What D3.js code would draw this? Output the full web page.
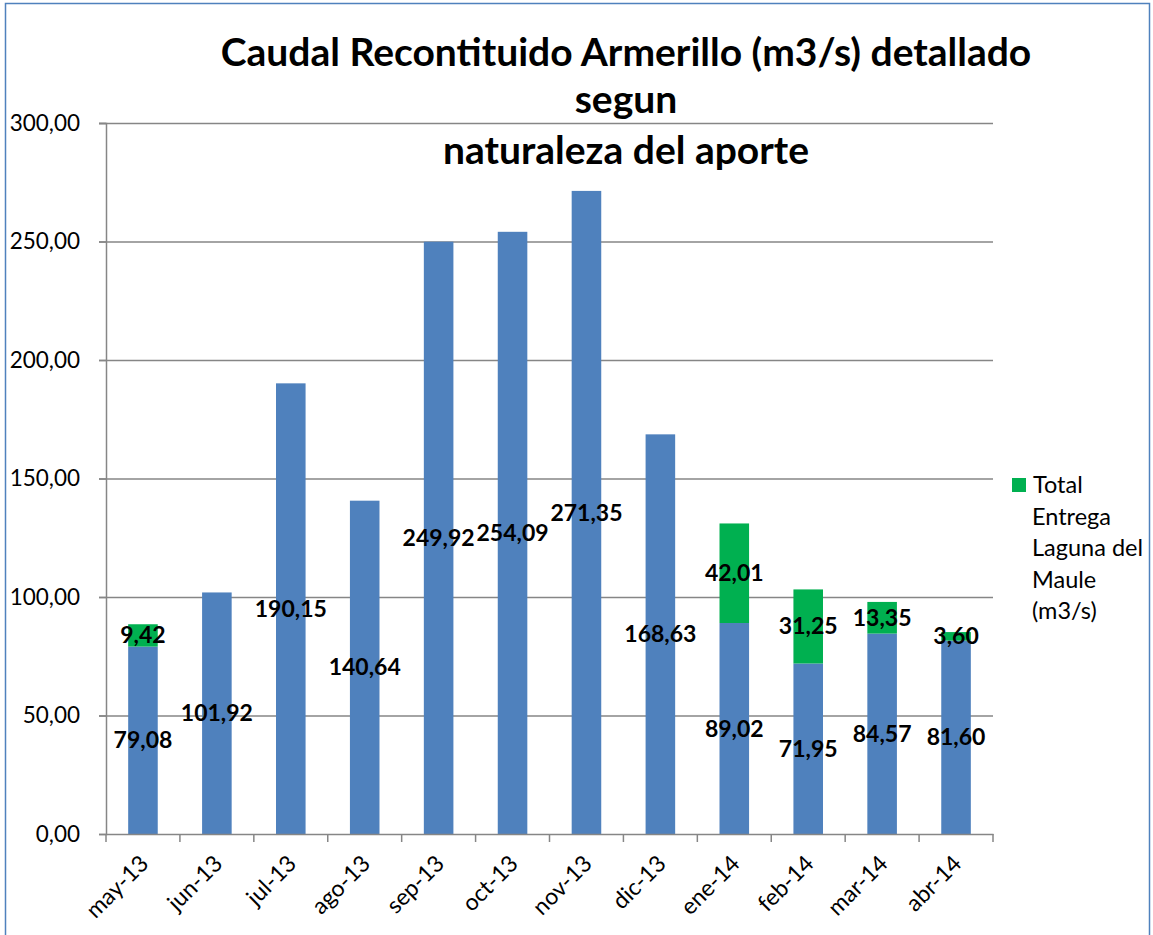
<!DOCTYPE html>
<html><head><meta charset="utf-8">
<script src="https://cdn.jsdelivr.net/npm/d3@7"></script>
<style>body{margin:0;background:#fff}svg{display:block}</style>
</head><body>
<script>
const categories = ["may-13","jun-13","jul-13","ago-13","sep-13","oct-13","nov-13","dic-13","ene-14","feb-14","mar-14","abr-14"];
const baseFlow = [79.08,101.92,190.15,140.64,249.92,254.09,271.35,168.63,89.02,71.95,84.57,81.60];
const lagunaMaule = [9.42,0,0,0,0,0,0,0,42.01,31.25,13.35,3.60];
const yTicks = [0,50,100,150,200,250,300];
const titleLines = ["Caudal Recontituido Armerillo (m3/s) detallado","segun","naturaleza del aporte"];
const legendLines = ["Total","Entrega","Laguna del","Maule","(m3/s)"];

const W=1153,H=935;
const font="Lato, 'Open Sans', sans-serif";
const svg=d3.select("body").append("svg").attr("width",W).attr("height",H);
svg.append("rect").attr("x",5.5).attr("y",3.5).attr("width",1144).attr("height",940).attr("fill","#fff").attr("stroke","#4F81BD").attr("stroke-width",1.5);

const L=106,R=993,T=123,B=834;
const x=d3.scaleBand().domain(categories).range([L,R]).paddingInner(0.6).paddingOuter(0.3);
const y=d3.scaleLinear().domain([0,300]).range([B,T]);
const fmt=v=>v.toFixed(2).replace(".",",");

// gridlines
svg.append("g").selectAll("line").data(yTicks.slice(1)).join("line")
 .attr("x1",L-7).attr("x2",R).attr("y1",d=>y(d)+0.5).attr("y2",d=>y(d)+0.5)
 .attr("stroke","#868686").attr("stroke-width",1.5);

// y axis
const ya=svg.append("g").attr("transform",`translate(${L},0)`)
 .call(d3.axisLeft(y).tickValues(yTicks).tickFormat(fmt).tickSize(7).tickPadding(19));
ya.select(".domain").attr("stroke","#868686").attr("stroke-width",1.5);
ya.selectAll(".tick line").attr("stroke","#868686").attr("stroke-width",1.5);
ya.selectAll("text").attr("font-family",font).attr("font-size",22.5).attr("fill","#000");

// bars
const stack=categories.map((c,i)=>({c,b:baseFlow[i],g:lagunaMaule[i]}));
svg.append("g").selectAll("rect").data(stack).join("rect")
 .attr("x",d=>x(d.c)).attr("width",x.bandwidth()).attr("y",d=>y(d.b)).attr("height",d=>B-y(d.b)).attr("fill","#4F81BD");
svg.append("g").selectAll("rect").data(stack.filter(d=>d.g>0)).join("rect")
 .attr("x",d=>x(d.c)).attr("width",x.bandwidth()).attr("y",d=>y(d.b+d.g)).attr("height",d=>y(d.b)-y(d.b+d.g)).attr("fill","#00B050");

// x axis
const xa=svg.append("g").attr("transform",`translate(0,${B})`)
 .call(d3.axisBottom(x).tickSize(0).tickFormat(d=>d));
xa.select(".domain").attr("stroke","#868686").attr("stroke-width",1.5);
const step=(R-L)/categories.length;
svg.append("g").selectAll("line").data(d3.range(categories.length+1)).join("line")
 .attr("x1",i=>L+i*step).attr("x2",i=>L+i*step).attr("y1",B).attr("y2",B+8)
 .attr("stroke","#868686").attr("stroke-width",1.5);
xa.selectAll(".tick text").attr("font-family",font).attr("font-size",23).attr("fill","#000")
 .attr("text-anchor","end").attr("dy",null).attr("y",0)
 .attr("transform","translate(7,31) rotate(-45)");

// labels
const lab=svg.append("g").attr("font-family",font).attr("font-weight","bold").attr("font-size",23).attr("text-anchor","middle").attr("fill","#000");
lab.selectAll("text.b").data(stack).join("text").attr("class","b")
 .attr("x",d=>x(d.c)+x.bandwidth()/2).attr("y",d=>y(d.b/2)).attr("dy","0.35em").text(d=>fmt(d.b));
lab.selectAll("text.g").data(stack.filter(d=>d.g>0)).join("text").attr("class","g")
 .attr("x",d=>x(d.c)+x.bandwidth()/2).attr("y",d=>y(d.b+d.g/2)).attr("dy","0.35em").text(d=>fmt(d.g));

// title
svg.append("g").selectAll("text").data(titleLines).join("text")
 .attr("x",626).attr("y",(d,i)=>[66,113,164][i]).attr("text-anchor","middle")
 .attr("font-family",font).attr("font-weight","bold").attr("font-size",39).text(d=>d);

// legend
svg.append("rect").attr("x",1012).attr("y",478).attr("width",14).attr("height",14).attr("fill","#00B050");
svg.append("g").selectAll("text").data(legendLines).join("text")
 .attr("x",(d,i)=>i===0?1033:1032).attr("y",(d,i)=>493+i*31.5)
 .attr("font-family",font).attr("font-size",23.5).text(d=>d);
</script>
</body></html>
